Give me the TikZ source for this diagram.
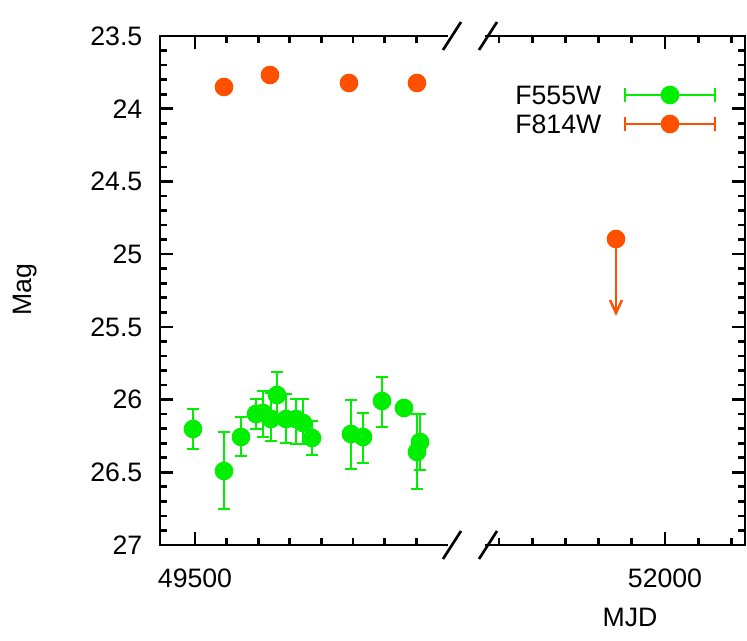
\documentclass[tikz,border=0pt]{standalone}
\usepackage{fontspec}
\setmainfont{Liberation Sans}
\definecolor{vgreen}{RGB}{0,238,0}
\definecolor{rorange}{RGB}{255,80,0}
\begin{document}
\begin{tikzpicture}[x=0.75pt, y=-0.75pt,
        every node/.style={font=\fontsize{20}{24}\selectfont},
        frame/.style={line width=2.2pt},
        tick/.style={line width=2pt},
        errbar/.style={line width=1.3pt},
        dot/.style={circle, inner sep=0pt, minimum size=14pt}
    ]
        \useasboundingbox (0,0) rectangle (747,641);

        % Rahmen mit Achsenbruch
        \draw[frame] (448,36) -- (160,36) -- (160,545) -- (448,545);
        \draw[frame] (485,36) -- (745,36) -- (745,545) -- (485,545);
        \foreach \bx in {452,488} {
            \draw[tick] (\bx-9,559) -- (\bx+9,531);
            \draw[tick] (\bx-9,50) -- (\bx+9,22);
        }

        % y-Striche
        \foreach \k in {0,...,35} {
            \pgfmathsetmacro{\yy}{36+\k*14.543}
            \pgfmathsetmacro{\len}{mod(\k,5)==0 ? 13 : 7}
            \draw[tick] (160,\yy) -- ++(\len,0);
            \draw[tick] (745,\yy) -- ++(-\len,0);
        }
        \foreach \lab [count=\i from 0] in {23.5,24,24.5,25,25.5,26,26.5,27}
            \node[anchor=east] at (147,36+\i*72.71) {\lab};

        % x-Striche
        \foreach \k in {0,...,7} {
            \pgfmathsetmacro{\len}{\k==0 ? 13 : 7}
            \draw[tick] (195+\k*31.6,545) -- ++(0,-\len);
            \draw[tick] (195+\k*31.6,36) -- ++(0,\len);
        }
        \foreach \k in {0,...,7} {
            \pgfmathsetmacro{\len}{\k==5 ? 13 : 7}
            \draw[tick] (499+\k*33.2,545) -- ++(0,-\len);
            \draw[tick] (499+\k*33.2,36) -- ++(0,\len);
        }
        \node (x1) at (195,578) {49500};
        \node (x2) at (665,578) {52000};
        \node (xlab) at (630,617) {MJD};
        \node[rotate=90] (ylab) at (25,290) {Mag};

        % F555W
        \foreach \px/\py/\lo/\hi in {193/429/409/449, 224/471/432/509, 241/437/417/456,
                256/414/399/429, 263/413/391/437, 277/395/372/420, 271/419/393/441,
                286/419/394/443, 296/419/399/444, 303/423/399/444, 312/438/421/455,
                351/434/400/469, 363/437/413/463, 382/401/377/427, 404/408/408/408,
                417/452/414/489, 420/442/414/470} {
            \draw[errbar, vgreen] (\px,\lo) -- (\px,\hi)
                (\px-6,\lo) -- (\px+6,\lo) (\px-6,\hi) -- (\px+6,\hi);
            \node[dot, fill=vgreen] at (\px,\py) {};
        }

        % F814W
        \foreach \px/\py in {224/87, 270/75, 349/83, 417/83} {
            \draw[errbar, rorange] (\px,\py-6) -- (\px,\py+6)
                (\px-5,\py-6) -- (\px+5,\py-6) (\px-5,\py+6) -- (\px+5,\py+6);
            \node[dot, fill=rorange] at (\px,\py) {};
        }
        \node[dot, fill=rorange] (lim) at (616,239) {};
        \coordinate (limend) at (616,313);
        \draw[errbar, rorange, line width=1.8pt] (lim.center) -- (limend);
        \draw[errbar, rorange, line width=1.8pt] (610,300) -- (limend) -- (622,300);

        % Legende
        \node[anchor=east] (l1) at (606,95) {F555W};
        \node[anchor=east] (l2) at (606,124) {F814W};
        \draw[errbar, line width=1pt, vgreen] (625,95) -- (715,95) (625,88) -- (625,102) (715,88) -- (715,102);
        \node[dot, fill=vgreen] at (670,95) {};
        \draw[errbar, line width=1pt, rorange] (625,124) -- (715,124) (625,117) -- (625,131) (715,117) -- (715,131);
        \node[dot, fill=rorange] at (670,124) {};
    \end{tikzpicture}
\end{document}
